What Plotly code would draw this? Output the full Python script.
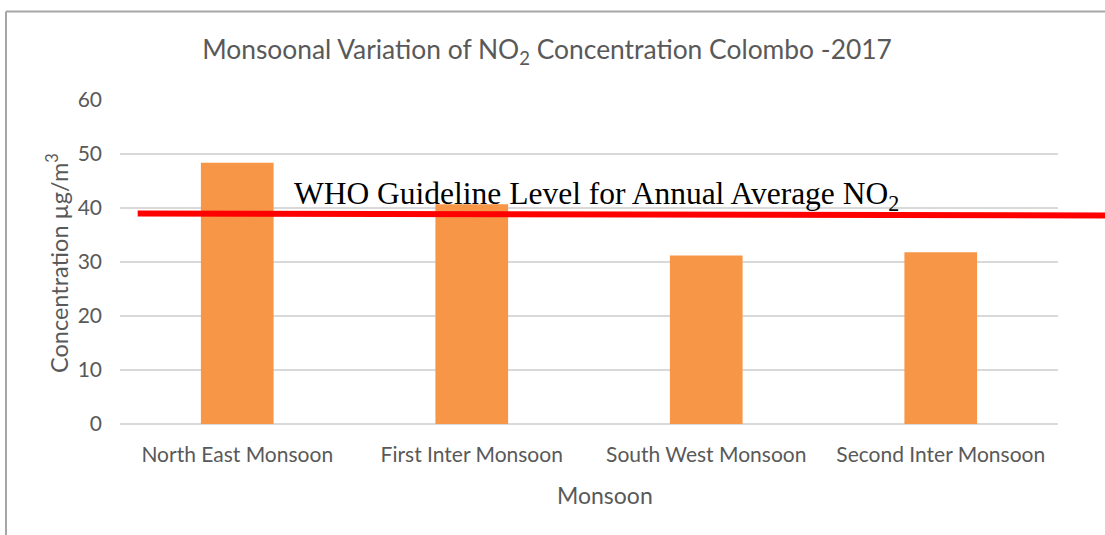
import plotly.graph_objects as go

categories = ["North East Monsoon", "First Inter Monsoon", "South West Monsoon", "Second Inter Monsoon"]
no2_values = [48.4, 40.7, 31.2, 31.8]
y_ticks = [0, 10, 20, 30, 40, 50, 60]
who_line_start = 39.0
who_line_end = 38.6

W, H = 1105, 535
L, R, T, B = 120, 1058, 100, 424
pw, ph = R - L, B - T

def px(x):
    return (x - L) / pw

def py(y):
    return (B - y) / ph

TXT = "#595959"
FONT = "Lato"

fig = go.Figure()
fig.add_trace(go.Bar(
    x=categories, y=no2_values, width=0.31,
    marker=dict(color="#F79646", line=dict(width=0)),
    hoverinfo="x+y",
))

fig.update_layout(
    width=W, height=H,
    margin=dict(l=L, r=W - R, t=T, b=H - B, autoexpand=False),
    paper_bgcolor="white", plot_bgcolor="white",
    showlegend=False,
    title=dict(
        text="Monsoonal Variation of NO<sub>2</sub> Concentration Colombo -2017",
        x=547 / W, xanchor="center", y=1 - 50 / H, yanchor="middle",
        font=dict(family=FONT, size=26.4, color=TXT),
    ),
    xaxis=dict(
        showgrid=False, showline=False, zeroline=False, ticks="",
        tickfont=dict(family=FONT, size=21, color=TXT),
        ticklabelstandoff=16,
    ),
    yaxis=dict(
        range=[0, 60], tickvals=y_ticks, showgrid=True, gridcolor="#D9D9D9", gridwidth=1.5,
        zeroline=True, zerolinecolor="#D9D9D9", zerolinewidth=1.5,
        showline=False, ticks="",
        tickfont=dict(family=FONT, size=21, color=TXT),
        ticklabelstandoff=17,
    ),
)

# axis titles
fig.add_annotation(text="Monsoon", xref="paper", yref="paper",
                   x=px(604.5), y=py(495), xanchor="center", yanchor="middle",
                   showarrow=False, font=dict(family=FONT, size=23, color=TXT))
fig.add_annotation(text="Concentration µg/m<sup>3</sup>", xref="paper", yref="paper",
                   x=px(57), y=py(263), xanchor="center", yanchor="middle", textangle=-90,
                   showarrow=False, font=dict(family=FONT, size=23.5, color=TXT))

# WHO guideline line
fig.add_shape(type="line", xref="paper", yref="y",
              x0=px(137.7), x1=px(1110), y0=who_line_start, y1=who_line_end,
              line=dict(color="#FF0000", width=6))
fig.add_annotation(text="WHO Guideline Level for Annual Average NO<sub>2</sub>",
                   xref="paper", yref="paper", x=px(292), y=py(196),
                   xanchor="left", yanchor="middle", showarrow=False,
                   font=dict(family="Liberation Serif", size=31.5, color="black"))

# chart border
fig.add_shape(type="line", xref="paper", yref="paper",
              x0=px(6), x1=px(1110), y0=py(11.5), y1=py(11.5),
              line=dict(color="#A6A6A6", width=2))
fig.add_shape(type="line", xref="paper", yref="paper",
              x0=px(6), x1=px(6), y0=py(11.5), y1=py(540),
              line=dict(color="#A6A6A6", width=2))

fig.write_html("out.html", config={"displayModeBar": False},
               post_script="document.body.style.margin='0px';")
